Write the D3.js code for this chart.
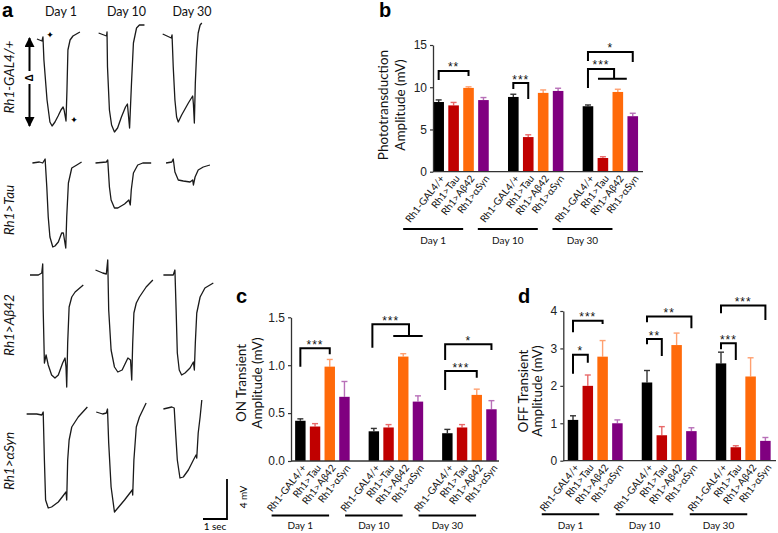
<!DOCTYPE html>
<html><head><meta charset="utf-8">
<script src="https://cdn.jsdelivr.net/npm/d3@7"></script>
<style>body{margin:0;background:#fff}svg{display:block}</style>
</head><body>
<svg id="fig" width="778" height="533"></svg>
<script>
// ---------------- DATA ----------------
const days = ["Day 1", "Day 10", "Day 30"];
const genotypes = ["Rh1-GAL4/+", "Rh1>Tau", "Rh1>A\u03b242", "Rh1>\u03b1Syn"];
const barColors = ["#000000", "#c00000", "#ff6a0a", "#800080"];
const errColors = ["#333333", "#e86a6a", "#ffa070", "#b870b8"];

// Panel b: phototransduction amplitude (mV), rows = days, cols = genotypes
const photoMean = [[8.25, 7.85, 9.92, 8.48], [8.85, 4.10, 9.33, 9.56], [7.75, 1.62, 9.44, 6.57]];
const photoErr  = [[0.25, 0.35, 0.13, 0.30], [0.32, 0.27, 0.35, 0.32], [0.15, 0.15, 0.32, 0.35]];
const photoTicks = [0, 5, 10, 15];
// Panel c: ON transient amplitude (mV)
const onMean = [[0.42, 0.36, 0.985, 0.67], [0.31, 0.35, 1.09, 0.62], [0.29, 0.35, 0.69, 0.54]];
const onErr  = [[0.02, 0.03, 0.075, 0.16], [0.03, 0.03, 0.03, 0.06], [0.04, 0.03, 0.06, 0.09]];
const onTicks = [0, 0.5, 1.0, 1.5];
// Panel d: OFF transient amplitude (mV)
const offMean = [[1.09, 2.00, 2.78, 1.00], [2.09, 0.68, 3.09, 0.79], [2.60, 0.36, 2.25, 0.53]];
const offErr  = [[0.11, 0.29, 0.43, 0.09], [0.32, 0.23, 0.32, 0.09], [0.30, 0.04, 0.50, 0.09]];
const offTicks = [0, 1, 2, 3, 4];

// significance brackets: slot positions (group*5 + genotype), heights in data units
const photoBrackets = [
  {a: 0, b: 2, top: 11.93, ya: 10.86, yb: 11.34, label: "**"},
  {a: 5, b: 6, top: 10.5, ya: 9.8, yb: 8.6, label: "***"},
  {a: 10, b: 13, top: 14.18, ya: 13.1, yb: 13.0, label: "*"},
  {a: 10, b: 11.75, top: 12.17, ya: 9.9, yb: 11.0, label: "***", cross: [10.67, 12.6]}
];
const onBrackets = [
  {a: 0, b: 2, top: 1.176, ya: 0.984, yb: 1.114, label: "***"},
  {a: 4.9, b: 7.39, top: 1.427, ya: 1.183, yb: 1.305, label: "***", cross: [6.32, 8.32]},
  {a: 9.85, b: 13, top: 1.218, ya: 1.054, yb: 1.159, label: "*"},
  {a: 9.85, b: 12, top: 0.939, ya: 0.74, yb: 0.87, label: "***"}
];
const offBrackets = [
  {a: 0, b: 2, top: 3.74, ya: 3.43, yb: 3.65, label: "***"},
  {a: 0, b: 1, top: 2.83, ya: 2.32, yb: 2.62, label: "*"},
  {a: 5, b: 8, top: 3.85, ya: 3.70, yb: 3.54, label: "**"},
  {a: 5, b: 6, top: 3.25, ya: 3.11, yb: 2.80, label: "**"},
  {a: 10, b: 13, top: 4.15, ya: 3.94, yb: 3.76, label: "***"},
  {a: 10, b: 11, top: 3.14, ya: 2.98, yb: 2.69, label: "***"}
];

// Panel a: ERG traces, points are [time (s), potential (mV)] per day
const traceGAL4 = [
  [[0.29,-0.2],[0.5,-0.4],[0.54,0],[0.58,-2.3],[0.71,-6.3],[0.83,-8.5],[0.92,-8.9],[1.04,-8.5],[1.17,-7.9],[1.29,-7.3],[1.38,-7.0],[1.42,-7.3],[1.5,-8.4],[1.54,-5.3],[1.58,-1.3],[1.67,-0.3],[1.79,0.1],[2.08,0.5]],
  [[0.13,0.4],[0.46,0.1],[0.48,0.5],[0.5,-3.0],[0.58,-7.3],[0.67,-8.8],[0.79,-9.5],[0.92,-9.1],[1.08,-8.0],[1.25,-7.0],[1.33,-6.7],[1.42,-9.1],[1.5,-4.6],[1.58,-0.6],[1.71,0.9],[1.83,1.2],[2.04,1.2]],
  [[0.07,0.3],[0.43,-0.1],[0.46,0.2],[0.51,-3.0],[0.58,-6.3],[0.65,-8.0],[0.72,-8.5],[0.86,-7.8],[1.14,-6.6],[1.32,-5.9],[1.35,-6.7],[1.39,-8.6],[1.43,-4.6],[1.49,-1.3],[1.55,0.4],[1.63,1.2],[1.7,1.4]]
];
const traceTau = [
  [[0.1,0],[0.39,0.1],[0.53,0],[0.63,0.4],[0.7,-2.4],[0.76,-5.4],[0.83,-7.4],[0.95,-8.4],[1.04,-8.3],[1.18,-7.9],[1.32,-7.0],[1.39,-7.0],[1.49,-8.5],[1.53,-5.4],[1.6,-2.0],[1.74,-0.5],[1.95,-0.2],[2.15,0.1]],
  [[0,0],[0.45,0.1],[0.51,0.3],[0.58,-2.4],[0.65,-3.7],[0.79,-4.5],[0.93,-4.5],[1.21,-4.1],[1.39,-3.7],[1.45,-4.2],[1.49,-2.7],[1.58,-1.0],[1.76,-0.2],[1.97,0],[2.32,0]],
  [[0.21,0],[0.45,0.1],[0.51,0.4],[0.58,-0.9],[0.72,-1.7],[0.93,-1.8],[1.21,-1.9],[1.32,-1.7],[1.35,-2.2],[1.42,-1.4],[1.55,-0.7],[1.76,-0.4],[2.04,-0.2]]
];
const traceAb42 = [
  [[0,-0.1],[0.35,-0.1],[0.49,0.1],[0.53,1.0],[0.55,-3.6],[0.6,-8.9],[0.67,-8.1],[0.76,-9.1],[0.9,-10.1],[1.04,-10.4],[1.18,-10.1],[1.36,-8.9],[1.46,-8.4],[1.5,-9.3],[1.53,-11.3],[1.57,-6.9],[1.63,-3.3],[1.74,-2.3],[1.88,-1.8],[2.22,-1.1]],
  [[0,0.4],[0.3,0.1],[0.45,0],[0.51,1.4],[0.55,-3.6],[0.65,-7.6],[0.79,-9.3],[0.93,-9.8],[1.11,-9.6],[1.35,-8.4],[1.46,-8.6],[1.51,-10.6],[1.55,-6.9],[1.6,-3.9],[1.7,-2.9],[1.83,-2.3],[2.11,-1.3],[2.39,-0.6]],
  [[0.1,-0.1],[0.51,-0.1],[0.58,0.4],[0.63,-3.6],[0.68,-7.9],[0.76,-9.6],[0.86,-10.1],[1.0,-9.9],[1.21,-9.4],[1.35,-8.8],[1.39,-9.6],[1.43,-6.9],[1.49,-3.9],[1.63,-2.3],[1.83,-1.4],[2.18,-0.9]]
];
const traceSyn = [
  [[-0.14,-0.1],[0.28,-0.1],[0.49,-0.2],[0.55,0.1],[0.6,-4.7],[0.65,-8.7],[0.76,-9.5],[0.9,-9.4],[1.18,-8.9],[1.5,-7.9],[1.53,-8.7],[1.57,-4.7],[1.63,-2.7],[1.74,-1.4],[2.01,-0.4],[2.39,0.6]],
  [[0.03,0.1],[0.3,-0.1],[0.45,0],[0.5,0.4],[0.55,-3.0],[0.65,-7.4],[0.79,-9.9],[0.93,-9.5],[1.21,-8.7],[1.53,-7.7],[1.55,-8.2],[1.6,-4.7],[1.7,-1.4],[1.83,-0.4],[2.11,1.0]],
  [[0.1,0.4],[0.45,0.6],[0.55,0.5],[0.61,-2.0],[0.68,-4.7],[0.79,-6.5],[0.93,-6.4],[1.14,-5.7],[1.35,-4.7],[1.46,-4.2],[1.49,-4.5],[1.55,-2.0],[1.63,-0.4],[1.7,1.3]]
];

// ---------------- DRAW ----------------
const svg = d3.select("#fig");
const SANS = "'Liberation Sans', Arial, sans-serif";
const HUM = "Lato, 'Open Sans', sans-serif";

function panelLetter(t, x, y) {
  svg.append("text").attr("x", x).attr("y", y).text(t)
    .attr("font-family", SANS).attr("font-weight", "bold").attr("font-size", 20).attr("fill", "#000");
}

// ----- Panel a -----
panelLetter("a", 2, 17);
const tx = d3.scaleLinear().domain([0, 1]).range([0, 24]);
const ty = d3.scaleLinear().domain([0, 1]).range([0, -10]);
const colX = d3.scalePoint().domain(days).range([30, 161]);
const rowBase = [37, 163, 274, 413];
const rowLabelY = [77, 210, 325, 461];
const traceSets = [traceGAL4, traceTau, traceAb42, traceSyn];
const traceLine = d3.line().x(d => tx(d[0])).y(d => ty(d[1]));
const ga = svg.append("g");
days.forEach(dy => {
  ga.append("text").attr("x", colX(dy) + 31).attr("y", 16).attr("text-anchor", "middle")
    .attr("font-family", HUM).attr("font-size", 12.5).attr("fill", "#111").text(dy);
});
traceSets.forEach((set, r) => {
  set.forEach((pts, c) => {
    ga.append("path").attr("transform", `translate(${colX(days[c])},${rowBase[r]})`)
      .attr("d", traceLine(pts)).attr("fill", "none").attr("stroke", "#1a1a1a")
      .attr("stroke-width", 1.3).attr("stroke-linejoin", "round");
  });
  ga.append("text").attr("transform", `translate(14,${rowLabelY[r]}) rotate(-90)`)
    .attr("text-anchor", "middle").attr("font-family", HUM).attr("font-style", "italic")
    .attr("font-size", 13.5).attr("fill", "#111").text(genotypes[r]);
});
// amplitude arrow with delta
const defs = svg.append("defs");
defs.append("marker").attr("id", "ah").attr("viewBox", "0 0 10 10").attr("refX", 9).attr("refY", 5)
  .attr("markerWidth", 5).attr("markerHeight", 5).attr("orient", "auto-start-reverse")
  .append("path").attr("d", "M0,0 L10,5 L0,10 z").attr("fill", "#000");
const arrowX = 29.5;
ga.append("line").attr("x1", arrowX).attr("x2", arrowX).attr("y1", 71).attr("y2", 38)
  .attr("stroke", "#000").attr("stroke-width", 2).attr("marker-end", "url(#ah)");
ga.append("line").attr("x1", arrowX).attr("x2", arrowX).attr("y1", 84).attr("y2", 126)
  .attr("stroke", "#000").attr("stroke-width", 2).attr("marker-end", "url(#ah)");
ga.append("text").attr("transform", `translate(${arrowX + 3.5},78) rotate(-90)`).attr("text-anchor", "middle")
  .attr("font-family", SANS).attr("font-size", 10).attr("font-weight", "bold").text("\u0394");
ga.append("text").attr("x", 50).attr("y", 37.5).attr("text-anchor", "middle")
  .attr("font-family", "DejaVu Sans").attr("font-size", 9).text("\u2726");
ga.append("text").attr("x", 74).attr("y", 122.5).attr("text-anchor", "middle")
  .attr("font-family", "DejaVu Sans").attr("font-size", 9).text("\u2726");
// scale bar (4 mV, 1 sec) built from the trace scales
const sbX = 227, sbY = 519;
ga.append("path").attr("d", `M${sbX},${sbY + ty(4)} L${sbX},${sbY} L${sbX - tx(1)},${sbY}`)
  .attr("fill", "none").attr("stroke", "#000").attr("stroke-width", 1.8);
ga.append("text").attr("transform", `translate(${sbX + 20},${sbY - 22}) rotate(-90)`).attr("text-anchor", "middle")
  .attr("font-family", HUM).attr("font-size", 10).text("4 mV");
ga.append("text").attr("x", sbX - tx(1) / 2).attr("y", 530).attr("text-anchor", "middle")
  .attr("font-family", HUM).attr("font-size", 10).text("1 sec");

// ----- Bar panels -----
function barPanel(cfg) {
  const g = svg.append("g");
  const nSlots = 14;
  const y = d3.scaleLinear().domain([0, cfg.ticks[cfg.ticks.length - 1]]).range([cfg.yBottom, cfg.yTop]);
  const band = d3.scaleBand().domain(d3.range(nSlots)).range([cfg.x0, cfg.x0 + nSlots * cfg.step])
    .paddingInner(0.29).paddingOuter(0.145);
  const xc = d3.scaleLinear().domain([-0.5, nSlots - 0.5]).range([cfg.x0, cfg.x0 + nSlots * cfg.step]);
  const rows = [];
  days.forEach((dy, di) => genotypes.forEach((gt, gi) => {
    rows.push({di, gi, slot: di * 5 + gi, v: cfg.means[di][gi], e: cfg.errs[di][gi]});
  }));
  // error bars (drawn under bars so only the upper whisker shows)
  const capW = 6;
  rows.forEach(r => {
    const cx = band(r.slot) + band.bandwidth() / 2;
    g.append("line").attr("x1", cx).attr("x2", cx).attr("y1", y(r.v)).attr("y2", y(r.v + r.e))
      .attr("stroke", errColors[r.gi]).attr("stroke-width", 1.4);
    g.append("line").attr("x1", cx - capW / 2).attr("x2", cx + capW / 2).attr("y1", y(r.v + r.e)).attr("y2", y(r.v + r.e))
      .attr("stroke", errColors[r.gi]).attr("stroke-width", 1.4);
  });
  g.selectAll("rect.bar").data(rows).join("rect").attr("class", "bar")
    .attr("x", d => band(d.slot)).attr("width", band.bandwidth())
    .attr("y", d => y(d.v)).attr("height", d => y(0) - y(d.v))
    .attr("fill", d => barColors[d.gi]);
  // axes
  const ax = g.append("g").attr("transform", `translate(${cfg.axisX},0)`)
    .call(d3.axisLeft(y).tickValues(cfg.ticks).tickFormat(cfg.fmt).tickSize(3).tickSizeOuter(0).tickPadding(3));
  ax.select(".domain").attr("stroke", "#333").attr("stroke-width", 1.3);
  ax.selectAll(".tick line").attr("stroke", "#333").attr("stroke-width", 1.2);
  ax.selectAll(".tick text").attr("font-family", SANS).attr("font-size", 12).attr("fill", "#222");
  g.append("line").attr("x1", cfg.axisX).attr("x2", cfg.axisEnd).attr("y1", y(0)).attr("y2", y(0))
    .attr("stroke", "#333").attr("stroke-width", 1.3);
  // y titles
  cfg.title.forEach((t, i) => {
    g.append("text").attr("transform", `translate(${cfg.titleX[i]},${cfg.titleY}) rotate(-90)`)
      .attr("text-anchor", "middle").attr("font-family", HUM).attr("font-size", 13.5).attr("fill", "#111").text(t);
  });
  // rotated x labels
  rows.forEach(r => {
    const cx = band(r.slot) + band.bandwidth() / 2;
    g.append("text").attr("transform", `translate(${cx + 6.5},${y(0) + 7}) rotate(-52)`)
      .attr("text-anchor", "end").attr("font-family", HUM).attr("font-size", 10).attr("fill", "#111")
      .text(genotypes[r.gi]);
  });
  // day group lines
  days.forEach((dy, di) => {
    const c = xc(di * 5) + cfg.groupOffset;
    g.append("line").attr("x1", c - cfg.groupWidth / 2).attr("x2", c + cfg.groupWidth / 2)
      .attr("y1", cfg.groupLineY).attr("y2", cfg.groupLineY).attr("stroke", "#000").attr("stroke-width", 2);
    g.append("text").attr("x", c).attr("y", cfg.groupLabelY).attr("text-anchor", "middle")
      .attr("font-family", HUM).attr("font-size", 10).attr("fill", "#111").text(dy);
  });
  // brackets
  cfg.brackets.forEach(b => {
    const path = d3.path();
    path.moveTo(xc(b.a), y(b.ya)); path.lineTo(xc(b.a), y(b.top));
    path.lineTo(xc(b.b), y(b.top)); path.lineTo(xc(b.b), y(b.yb));
    if (b.cross) { path.moveTo(xc(b.cross[0]), y(b.yb)); path.lineTo(xc(b.cross[1]), y(b.yb)); }
    g.append("path").attr("d", path.toString()).attr("fill", "none").attr("stroke", "#000")
      .attr("stroke-width", 2).attr("stroke-linejoin", "miter");
    g.append("text").attr("x", (xc(b.a) + xc(b.b)) / 2).attr("y", y(b.top) + 0.5)
      .attr("text-anchor", "middle").attr("font-family", SANS).attr("font-size", 12)
      .attr("letter-spacing", 1).attr("fill", "#111").text(b.label);
  });
}

panelLetter("b", 379, 17);
barPanel({means: photoMean, errs: photoErr, brackets: photoBrackets, ticks: photoTicks, fmt: d3.format("d"),
  x0: 431.2, step: 14.93, axisX: 433, axisEnd: 643, yBottom: 171.7, yTop: 45,
  title: ["Phototransduction", "Amplitude (mV)"], titleX: [388, 405], titleY: 105,
  groupOffset: -5.5, groupWidth: 60, groupLineY: 229, groupLabelY: 243.5});

panelLetter("c", 236, 303);
barPanel({means: onMean, errs: onErr, brackets: onBrackets, ticks: onTicks, fmt: d3.format(".1f"),
  x0: 293, step: 14.7, axisX: 291, axisEnd: 499, yBottom: 461, yTop: 317.3,
  title: ["ON Transient", "Amplitude (mV)"], titleX: [246, 262], titleY: 383,
  groupOffset: 0, groupWidth: 57.5, groupLineY: 515.5, groupLabelY: 528.5});

panelLetter("d", 518, 303);
barPanel({means: offMean, errs: offErr, brackets: offBrackets, ticks: offTicks, fmt: d3.format("d"),
  x0: 565.6, step: 14.8, axisX: 563.3, axisEnd: 776, yBottom: 460.7, yTop: 311,
  title: ["OFF Transient", "Amplitude (mV)"], titleX: [527.5, 542], titleY: 391,
  groupOffset: -2.5, groupWidth: 57.5, groupLineY: 514.3, groupLabelY: 529});
</script>
</body></html>
